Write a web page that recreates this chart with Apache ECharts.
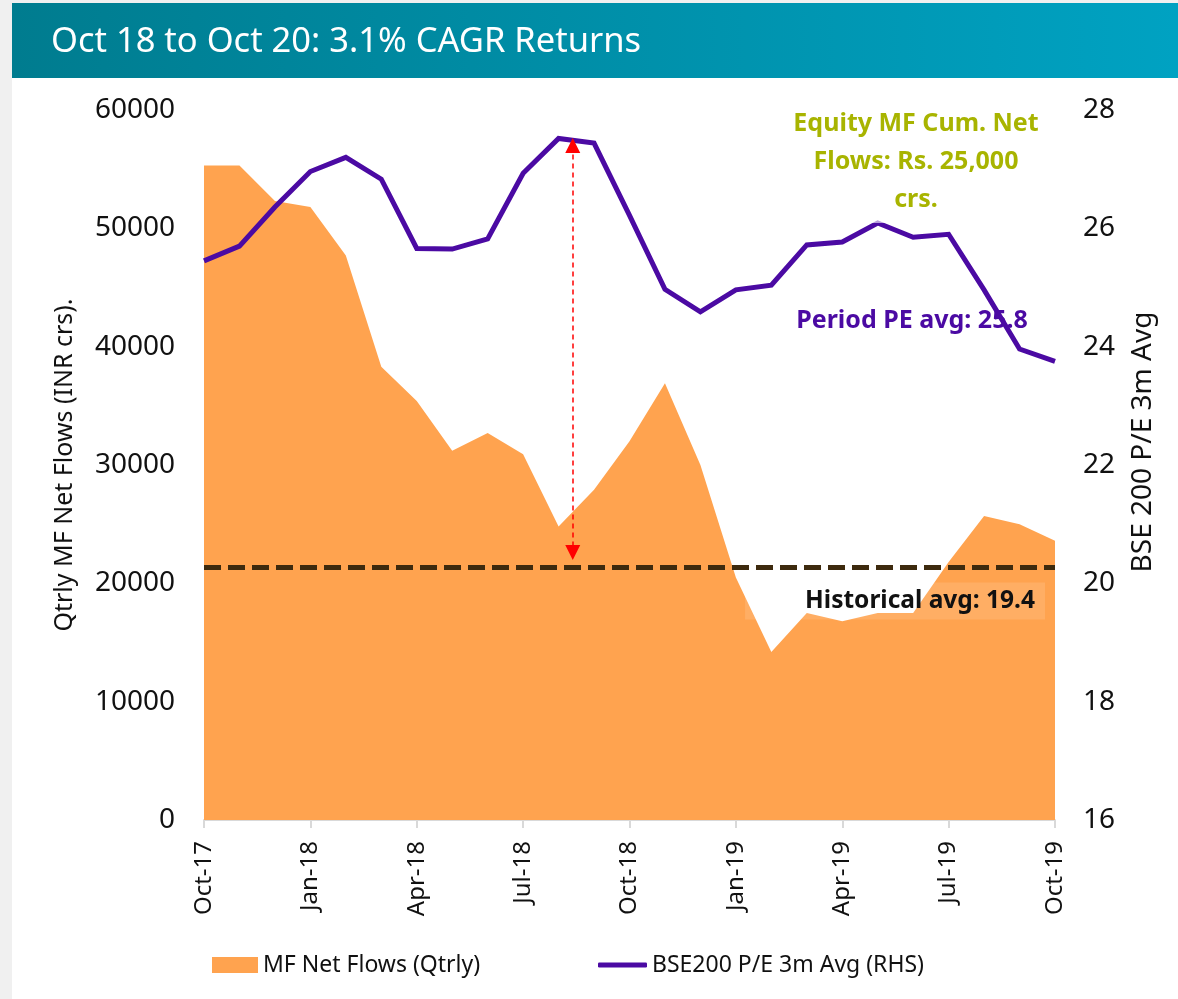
<!DOCTYPE html>
<html>
<head>
<meta charset="utf-8">
<script src="https://cdn.jsdelivr.net/npm/echarts@6/dist/echarts.min.js"></script>
<style>
  html, body { margin: 0; padding: 0; background: #ffffff; }
  #chart { width: 1178px; height: 999px; }
</style>
</head>
<body>
<div id="chart"></div>
<script>
// ---- data ----
const months = ['Oct-17','Nov-17','Dec-17','Jan-18','Feb-18','Mar-18','Apr-18','May-18','Jun-18','Jul-18','Aug-18','Sep-18',
                'Oct-18','Nov-18','Dec-18','Jan-19','Feb-19','Mar-19','Apr-19','May-19','Jun-19','Jul-19','Aug-19','Sep-19','Oct-19'];
const mfFlows = [55300,55300,52300,51800,47700,38300,35400,31200,32700,30900,24800,27900,
                 32000,36900,30000,20500,14200,17500,16800,17500,17500,21800,25700,25000,23600];
const pe3m = [25.45,25.70,26.36,26.96,27.20,26.83,25.66,25.65,25.82,26.93,27.52,27.44,
              26.22,24.97,24.59,24.96,25.04,25.72,25.77,26.09,25.85,25.90,24.96,23.96,23.75];
const historicalLine = 20.27;
const arrowMonthPos = 10.4;
const arrowTop = 27.40;
const arrowBottom = 20.52;
const leftAxisRange = [0, 60000, 10000];
const rightAxisRange = [16, 28, 2];
const title = 'Oct 18 to Oct 20: 3.1% CAGR Returns';
const seriesNames = ['MF Net Flows (Qtrly)', 'BSE200 P/E 3m Avg (RHS)'];
const leftAxisTitle = 'Qtrly MF Net Flows (INR crs).';
const rightAxisTitle = 'BSE 200 P/E 3m Avg';
const noteFlows = 'Equity MF Cum. Net\nFlows: Rs. 25,000\ncrs.';
const notePE = 'Period PE avg: 25.8';
const noteHist = 'Historical avg: 19.4';

const FONT = 'Noto Sans';
const ORANGE = '#FFA34F';
const PURPLE = '#4B0AA3';

const chart = echarts.init(document.getElementById('chart'), null, { renderer: 'canvas' });

const flowPts = mfFlows.map((v, i) => [i, v]);
const pePts = pe3m.map((v, i) => [i, v]);

const option = {
  animation: false,
  backgroundColor: '#ffffff',
  textStyle: { fontFamily: FONT },
  grid: { left: 204, right: 123, top: 110, bottom: 179, containLabel: false },
  xAxis: {
    type: 'value', min: 0, max: months.length - 1, interval: 3,
    axisLine: { show: true, lineStyle: { color: '#d9d9d9', width: 2 } },
    axisTick: { show: true, length: 8, lineStyle: { color: '#d9d9d9', width: 2 } },
    splitLine: { show: false },
    axisLabel: {
      rotate: 90, margin: 21, fontSize: 24, color: '#111', fontFamily: FONT,
      showMinLabel: true, showMaxLabel: true,
      formatter: v => months[v] || ''
    }
  },
  yAxis: [
    {
      type: 'value', min: leftAxisRange[0], max: leftAxisRange[1], interval: leftAxisRange[2],
      axisLine: { show: false }, axisTick: { show: false }, splitLine: { show: false },
      axisLabel: { fontSize: 28, color: '#111', margin: 29, fontFamily: FONT, formatter: v => String(v) }
    },
    {
      type: 'value', min: rightAxisRange[0], max: rightAxisRange[1], interval: rightAxisRange[2],
      position: 'right',
      axisLine: { show: false }, axisTick: { show: false }, splitLine: { show: false },
      axisLabel: { fontSize: 28, color: '#111', margin: 28, fontFamily: FONT, formatter: v => String(v) }
    }
  ],
  legend: [
    {
      left: 207, top: 946, itemWidth: 46, itemHeight: 16,
      data: [{ name: seriesNames[0], icon: 'rect' }],
      itemStyle: { borderWidth: 0 },
      textStyle: { fontSize: 23, color: '#111', fontFamily: FONT, lineHeight: 28 },
      selectedMode: false
    },
    {
      left: 593, top: 946, itemWidth: 49, itemHeight: 5,
      data: [{ name: seriesNames[1], icon: 'roundRect' }],
      itemStyle: { color: PURPLE, borderWidth: 0 },
      textStyle: { fontSize: 23, color: '#111', fontFamily: FONT, lineHeight: 28 },
      selectedMode: false
    }
  ],
  series: [
    {
      name: seriesNames[0], type: 'line', yAxisIndex: 0, data: flowPts,
      symbol: 'none', showSymbol: false,
      lineStyle: { width: 0, color: ORANGE },
      itemStyle: { color: ORANGE },
      areaStyle: { color: ORANGE, opacity: 1 },
      z: 1, silent: true
    },
    {
      name: seriesNames[1], type: 'line', yAxisIndex: 1, data: pePts,
      symbol: 'none', showSymbol: false,
      lineStyle: { width: 5, color: PURPLE, join: 'miter' },
      itemStyle: { color: PURPLE },
      z: 3, silent: true,
      markLine: {
        silent: true, animation: false,
        label: { show: false },
        emphasis: { disabled: true },
        data: [
          [
            { coord: [0, historicalLine], symbol: 'none',
              lineStyle: { color: '#3d2a0e', width: 5, type: [17, 7] } },
            { coord: [months.length - 1, historicalLine], symbol: 'none' }
          ],
          [
            { coord: [arrowMonthPos, arrowTop], symbol: 'triangle', symbolSize: 15,
              itemStyle: { color: '#ff0000' },
              lineStyle: { color: '#ff0000', width: 1.5, type: [5, 4] } },
            { coord: [arrowMonthPos, arrowBottom], symbol: 'triangle', symbolSize: 15,
              itemStyle: { color: '#ff0000' } }
          ]
        ]
      }
    }
  ],
  graphic: [
    { type: 'rect', z: -10, silent: true, shape: { x: 0, y: 0, width: 12, height: 999 }, style: { fill: '#f0f0f0' } },
    { type: 'rect', z: -10, silent: true, shape: { x: 0, y: 0, width: 1178, height: 3 }, style: { fill: '#f0f0f0' } },
    {
      type: 'rect', z: 10, silent: true, shape: { x: 12, y: 3, width: 1166, height: 75 },
      style: { fill: new echarts.graphic.LinearGradient(0, 0, 1, 0, [
        { offset: 0, color: '#007c8f' }, { offset: 1, color: '#00a2c2' }]) }
    },
    {
      type: 'text', z: 11, silent: true, x: 51, y: 42,
      style: { text: title, fill: '#ffffff', font: '34.5px "Noto Sans"', verticalAlign: 'middle', align: 'left' }
    },
    {
      type: 'text', z: 11, silent: true, x: 65, y: 465, rotation: Math.PI / 2,
      style: { text: leftAxisTitle, fill: '#111', font: '25px "Noto Sans"', align: 'center', verticalAlign: 'middle' }
    },
    {
      type: 'text', z: 11, silent: true, x: 1143, y: 442, rotation: Math.PI / 2,
      style: { text: rightAxisTitle, fill: '#111', font: '28px "Noto Sans"', align: 'center', verticalAlign: 'middle' }
    },
    {
      type: 'text', z: 11, silent: true, x: 916, y: 162,
      style: { text: noteFlows, fill: '#a8b400', font: 'bold 25px "Noto Sans"', align: 'center', verticalAlign: 'middle',
               lineHeight: 38, backgroundColor: 'rgba(255,255,255,0.6)', padding: [4, 14],
               boxShadowBlur: 14, boxShadowColor: 'rgba(0,0,0,0.05)' }
    },
    {
      type: 'text', z: 1, silent: true, x: 912, y: 321,
      style: { text: notePE, fill: '#4B0AA3', font: 'bold 25px "Noto Sans"', align: 'center', verticalAlign: 'middle',
               backgroundColor: 'rgba(255,255,255,0.6)', padding: [6, 20],
               boxShadowBlur: 14, boxShadowColor: 'rgba(0,0,0,0.05)' }
    },
    {
      type: 'text', z: 11, silent: true, x: 1045, y: 601,
      style: { text: noteHist, fill: '#111', font: 'bold 24.5px "Noto Sans"', align: 'right', verticalAlign: 'middle',
               backgroundColor: 'rgba(255,255,255,0.12)', padding: [6, 10, 6, 60],
               boxShadowBlur: 14, boxShadowColor: 'rgba(0,0,0,0.04)' }
    }
  ]
};
chart.setOption(option);
</script>
</body>
</html>
